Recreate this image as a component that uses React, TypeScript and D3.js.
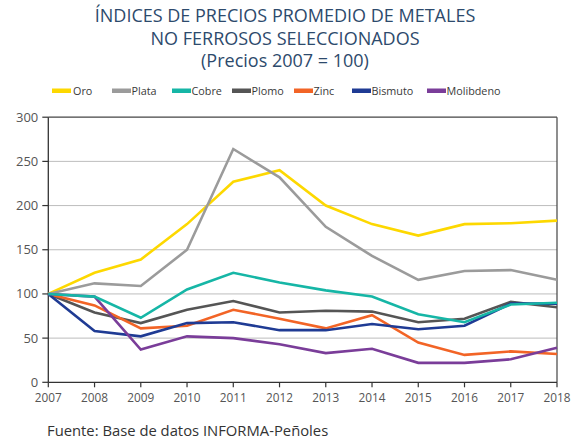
import React from "react";
import * as d3 from "d3";

const years = [2007, 2008, 2009, 2010, 2011, 2012, 2013, 2014, 2015, 2016, 2017, 2018];

const oro = [100, 124, 139, 179, 227, 240, 200, 179, 166, 179, 180, 183];
const plata = [100, 112, 109, 150, 264, 232, 176, 143, 116, 126, 127, 116];
const cobre = [100, 97, 73, 105, 124, 113, 104, 97, 77, 68, 88, 90];
const plomo = [100, 79, 67, 82, 92, 79, 81, 80, 68, 72, 91, 85];
const zinc = [100, 87, 61, 64, 82, 72, 61, 76, 45, 31, 35, 32];
const bismuto = [100, 58, 52, 67, 68, 59, 59, 66, 60, 64, 89, 89];
const molibdeno = [100, 97, 37, 52, 50, 43, 33, 38, 22, 22, 26, 39];

const series = [
  { name: "Oro", values: oro, color: "#fdd800" },
  { name: "Plata", values: plata, color: "#9b9b9b" },
  { name: "Cobre", values: cobre, color: "#16b6a6" },
  { name: "Plomo", values: plomo, color: "#555555" },
  { name: "Zinc", values: zinc, color: "#f26426" },
  { name: "Bismuto", values: bismuto, color: "#1f3b94" },
  { name: "Molibdeno", values: molibdeno, color: "#7a3d99" },
];
// stacking order of the lines (last drawn on top)
const drawOrder = ["Oro", "Plata", "Plomo", "Zinc", "Bismuto", "Molibdeno", "Cobre"];

const yTicks = [0, 50, 100, 150, 200, 250, 300];
const titleLines = [
  "ÍNDICES DE PRECIOS PROMEDIO DE METALES",
  "NO FERROSOS SELECCIONADOS",
  "(Precios 2007 = 100)",
];
const legendX = [52, 112, 172, 232, 294, 352, 427];

const W = 583;
const H = 443;
const font = "'Open Sans', sans-serif";

export default function App() {
  const x = d3.scaleLinear().domain([2007, 2018]).range([48.3, 557]);
  const y = d3.scaleLinear().domain([0, 300]).range([382.3, 117.2]);
  const line = d3
    .line<number>()
    .x((_, i) => x(years[i]))
    .y((d) => y(d));

  const ordered = drawOrder.map((n) => series.find((s) => s.name === n)!);

  return (
    <svg width={W} height={H} style={{ position: "absolute", left: 0, top: 0, background: "#fff" }}>
      {/* title */}
      {titleLines.map((t, i) => (
        <text key={i} x={285} y={22 + i * 22.5} textAnchor="middle" fontFamily={font} fontSize={18} fill="#2d4a6c">
          {t}
        </text>
      ))}

      {/* legend */}
      {series.map((s, i) => (
        <g key={s.name}>
          <rect x={legendX[i]} y={88.5} width={19} height={4.5} fill={s.color} />
          <text x={legendX[i] + (i === 0 ? 21 : 19.5)} y={95} fontFamily={font} fontSize={10.8} fill="#3a3a3a">
            {s.name}
          </text>
        </g>
      ))}

      {/* grid */}
      {yTicks.slice(1, -1).map((t) => (
        <line key={t} x1={x(2007)} x2={x(2018)} y1={y(t)} y2={y(t)} stroke="#bdbdbd" strokeWidth={1} />
      ))}

      {/* frame */}
      <line x1={x(2007)} x2={x(2018)} y1={y(300)} y2={y(300)} stroke="#444" strokeWidth={1.2} />
      <line x1={x(2018)} x2={x(2018)} y1={y(300)} y2={y(0)} stroke="#444" strokeWidth={1.2} />
      <line x1={x(2007)} x2={x(2007)} y1={y(300)} y2={y(0)} stroke="#333" strokeWidth={1.3} />
      <line x1={x(2007)} x2={x(2018)} y1={y(0)} y2={y(0)} stroke="#333" strokeWidth={1.3} />

      {/* y ticks */}
      {yTicks.map((t) => (
        <g key={t}>
          <line x1={x(2007) - 6} x2={x(2007)} y1={y(t)} y2={y(t)} stroke="#333" strokeWidth={1.2} />
          <text x={38.3} y={y(t) + 4.5} textAnchor="end" fontFamily={font} fontSize={13} fill="#555">
            {t}
          </text>
        </g>
      ))}

      {/* x ticks */}
      {years.map((yr) => (
        <g key={yr}>
          <line x1={x(yr)} x2={x(yr)} y1={y(0)} y2={y(0) + 5} stroke="#333" strokeWidth={1.2} />
          <text x={x(yr)} y={401.5} textAnchor="middle" fontFamily={font} fontSize={11.8} fill="#555">
            {yr}
          </text>
        </g>
      ))}

      {/* lines */}
      {ordered.map((s) => (
        <path key={s.name} d={line(s.values) as string} fill="none" stroke={s.color} strokeWidth={2.6} strokeLinejoin="miter" />
      ))}

      <text x={47} y={436} fontFamily={font} fontSize={14.8} fill="#333">
        Fuente: Base de datos INFORMA-Peñoles
      </text>
    </svg>
  );
}
